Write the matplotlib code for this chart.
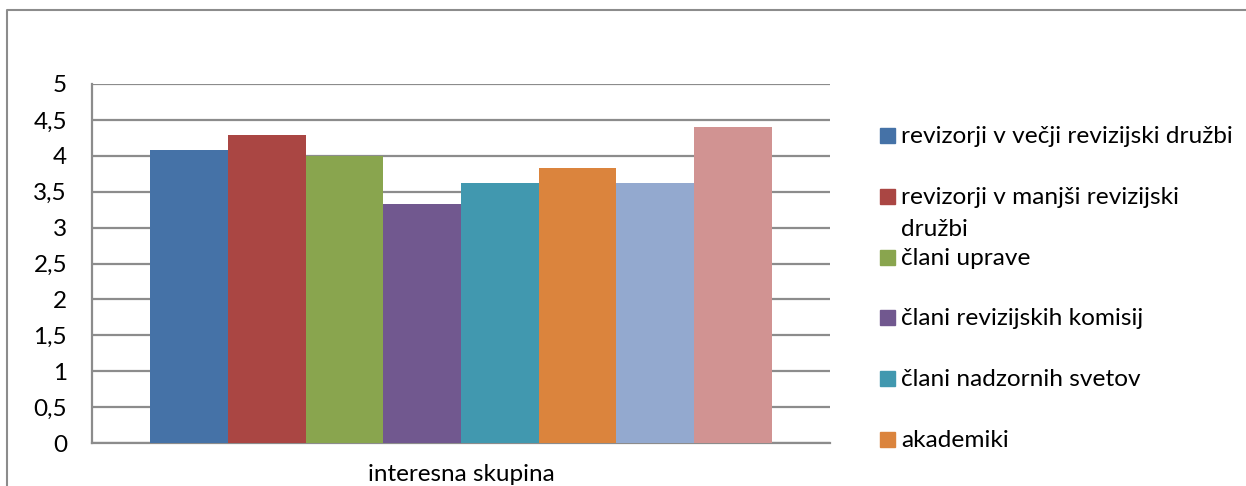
import matplotlib.pyplot as plt
from matplotlib.lines import Line2D
from matplotlib.patches import Rectangle

plt.rcParams['font.family'] = ['Lato', 'DejaVu Sans']

# mean score per interest group
scores = [4.08, 4.29, 4.00, 3.33, 3.62, 3.83, 3.62, 4.40]
colors = ['#4572a7', '#aa4643', '#89a54e', '#71588f',
          '#4198af', '#db843d', '#93a9cf', '#d19392']
# legend entries that fit inside the chart frame
legend_labels = ['revizorji v večji revizijski družbi',
                 'revizorji v manjši revizijski\ndružbi',
                 'člani uprave',
                 'člani revizijskih komisij',
                 'člani nadzornih svetov',
                 'akademiki']
category = 'interesna skupina'
yticks = [0, 0.5, 1, 1.5, 2, 2.5, 3, 3.5, 4, 4.5, 5]
ytick_labels = ['0', '0,5', '1', '1,5', '2', '2,5', '3', '3,5', '4', '4,5', '5']

W, H = 1246, 486
fig = plt.figure(figsize=(W / 100, H / 100), dpi=100)

# chart frame (only top and left edge visible)
fig.add_artist(Line2D([7 / W, 7 / W, 1.0], [0.0, 1 - 10 / H, 1 - 10 / H],
                      transform=fig.transFigure, color='#8c8c8c', lw=1.5))

ax = fig.add_axes([92 / W, 43 / H, 738 / W, 359 / H])
x = list(range(len(scores)))
ax.bar(x, scores, width=1.0, color=colors, zorder=3)

ax.set_ylim(0, 5)
ax.set_xlim(-1.246, len(scores) - 1 + 1.246)
ax.set_yticks(yticks)
ax.set_yticklabels(ytick_labels, fontsize=17.5)
ax.yaxis.grid(True, color='#8c8c8c', lw=1.6, zorder=0)
ax.tick_params(axis='y', length=0, pad=18)
ax.set_xticks([(len(scores) - 1) / 2])
ax.set_xticklabels([category], fontsize=17.5)
ax.tick_params(axis='x', length=0, pad=15)

for side in ('top', 'right'):
    ax.spines[side].set_visible(False)
for side in ('left', 'bottom'):
    ax.spines[side].set_color('#8c8c8c')
    ax.spines[side].set_linewidth(1.6)

# legend drawn by hand so wrapped labels keep the marker on the first line
for i, label in enumerate(legend_labels):
    y_bot = 143 + 60.8 * i
    fig.add_artist(Rectangle((880 / W, 1 - y_bot / H), 15 / W, 15 / H,
                             transform=fig.transFigure, color=colors[i]))
    for k, line in enumerate(label.split('\n')):
        fig.text(901 / W, 1 - (y_bot + 32 * k) / H, line, fontsize=17.6,
                 va='baseline', ha='left')

fig.savefig('out.png', dpi=100)
